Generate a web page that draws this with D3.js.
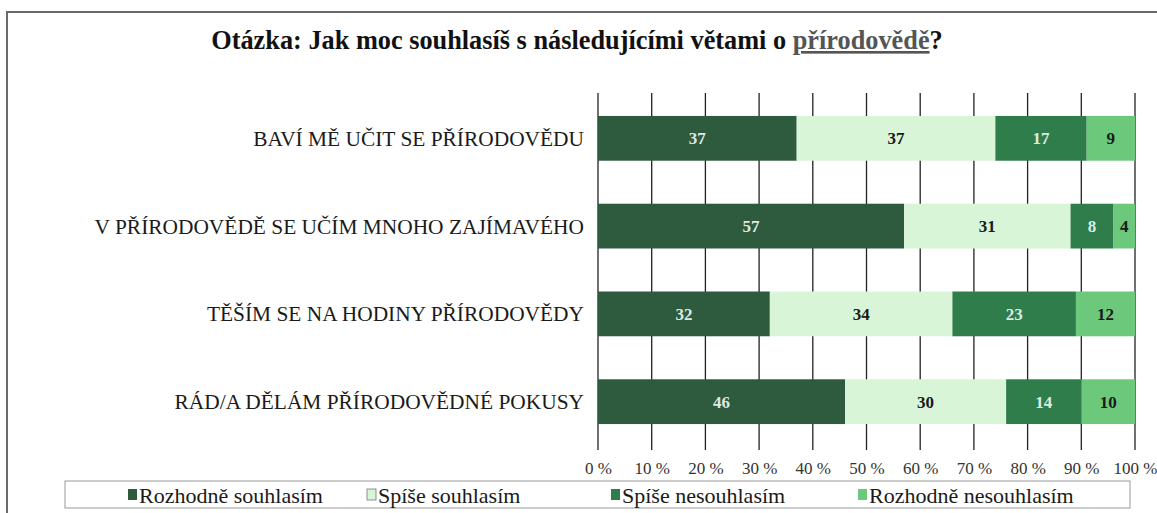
<!DOCTYPE html>
<html>
<head>
<meta charset="utf-8">
<script src="https://cdn.jsdelivr.net/npm/d3@7"></script>
<style>
  body { margin: 0; background: #fff; }
  svg { font-family: "Liberation Serif", "DejaVu Serif", serif; }
</style>
</head>
<body>
<script>
(function(){

    // Data
    var categories = [
        "BAVÍ MĚ UČIT SE PŘÍRODOVĚDU",
        "V PŘÍRODOVĚDĚ SE UČÍM MNOHO ZAJÍMAVÉHO",
        "TĚŠÍM SE NA HODINY PŘÍRODOVĚDY",
        "RÁD/A DĚLÁM PŘÍRODOVĚDNÉ POKUSY"
    ];
    var seriesNames = ["Rozhodně souhlasím", "Spíše souhlasím", "Spíše nesouhlasím", "Rozhodně nesouhlasím"];
    var rozhodneSouhlasim = [37, 57, 32, 46];
    var spiseSouhlasim = [37, 31, 34, 30];
    var spiseNesouhlasim = [17, 8, 23, 14];
    var rozhodneNesouhlasim = [9, 4, 12, 10];
    var tickValues = [0, 10, 20, 30, 40, 50, 60, 70, 80, 90, 100];

    var colors = ["#2e5a3e", "#d9f5d8", "#2f7d4a", "#6cc87b"];
    var labelColors = ["#dfe9e1", "#1a1a1a", "#dcebe0", "#1a1a1a"];

    window.onload = draw;

    function draw(){
        var width = 1157, height = 513;

        var svg = d3.select("body").append("svg")
            .attr("width", width)
            .attr("height", height);

        // outer frame
        svg.append("rect")
            .attr("x", 7).attr("y", 12)
            .attr("width", 1170).attr("height", 520)
            .attr("fill", "none")
            .attr("stroke", "#6a6a6a")
            .attr("stroke-width", 2);

        // title
        var title = svg.append("text")
            .attr("x", 577).attr("y", 49)
            .attr("text-anchor", "middle")
            .style("font-size", "26.3px")
            .style("font-weight", "bold")
            .attr("fill", "#111");
        title.append("tspan").text("Otázka: Jak moc souhlasíš s následujícími větami o ");
        title.append("tspan").text("přírodovědě")
            .attr("fill", "#555")
            .style("text-decoration", "underline");
        title.append("tspan").text("?");

        // 3rd row sums to 101, so the scale is clamped at 100 %
        var x = d3.scaleLinear().domain([0, 100]).range([598, 1135]).clamp(true);
        var y = d3.scaleBand().domain(categories).range([94, 446]).paddingInner(0.49).paddingOuter(0.25);

        // grid lines
        svg.append("g")
            .selectAll("line")
            .data(tickValues)
            .enter()
            .append("line")
            .attr("x1", function(d){ return x(d); })
            .attr("x2", function(d){ return x(d); })
            .attr("y1", 93)
            .attr("y2", 450)
            .attr("stroke", "#222")
            .attr("stroke-width", 1.3);

        // x axis labels
        var xAxis = d3.axisBottom(x)
            .tickValues(tickValues)
            .tickSize(0)
            .tickFormat(function(d){ return d + " %"; });

        var gx = svg.append("g")
            .attr("transform", "translate(0,459)")
            .call(xAxis);
        gx.select(".domain").remove();
        gx.selectAll("text")
            .style("font-family", "'Liberation Serif', serif")
            .style("font-size", "17px")
            .attr("fill", "#333");

        // stacks
        var rows = categories.map(function(c, i){
            return {
                cat: c,
                values: [rozhodneSouhlasim[i], spiseSouhlasim[i], spiseNesouhlasim[i], rozhodneNesouhlasim[i]]
            };
        });
        var keys = [0, 1, 2, 3];
        var stack = d3.stack()
            .keys(keys)
            .value(function(d, k){ return d.values[k]; });
        var series = stack(rows);

        var layers = svg.selectAll(".layer")
            .data(series)
            .enter()
            .append("g")
            .attr("class", "layer")
            .attr("fill", function(d, i){ return colors[i]; });

        layers.selectAll("rect")
            .data(function(d){ return d; })
            .enter()
            .append("rect")
            .attr("x", function(d){ return x(d[0]); })
            .attr("y", function(d){ return y(d.data.cat); })
            .attr("width", function(d){ return x(d[1]) - x(d[0]); })
            .attr("height", y.bandwidth());

        layers.each(function(s, i){
            d3.select(this).selectAll("text")
                .data(s)
                .enter()
                .append("text")
                .attr("x", function(d){ return (x(d[0]) + x(d[1])) / 2; })
                .attr("y", function(d){ return y(d.data.cat) + y.bandwidth() / 2; })
                .attr("dy", "0.35em")
                .attr("text-anchor", "middle")
                .attr("fill", labelColors[i])
                .style("font-size", "17px")
                .style("font-weight", "bold")
                .text(function(d){ return d[1] - d[0]; });
        });

        // category labels
        svg.append("g")
            .selectAll("text")
            .data(categories)
            .enter()
            .append("text")
            .attr("x", 584)
            .attr("y", function(d){ return y(d) + y.bandwidth() / 2; })
            .attr("dy", "0.35em")
            .attr("text-anchor", "end")
            .attr("fill", "#1a1a1a")
            .style("font-size", "21.4px")
            .text(function(d){ return d; });

        // legend
        svg.append("rect")
            .attr("x", 65).attr("y", 481)
            .attr("width", 1065).attr("height", 27)
            .attr("fill", "#fff")
            .attr("stroke", "#999")
            .attr("stroke-width", 1);

        var legendX = [128, 367, 611, 858];
        var legend = svg.selectAll(".legendItem")
            .data(seriesNames)
            .enter()
            .append("g")
            .attr("class", "legendItem")
            .attr("transform", function(d, i){ return "translate(" + legendX[i] + ",495)"; });

        legend.append("rect")
            .attr("x", 0).attr("y", -6)
            .attr("width", 9).attr("height", 11)
            .attr("fill", function(d, i){ return colors[i]; })
            .attr("stroke", function(d, i){ return i === 1 ? "#777" : "none"; })
            .attr("stroke-width", 0.8);

        legend.append("text")
            .attr("x", 11)
            .attr("y", 0)
            .attr("dy", "0.35em")
            .attr("fill", "#1a1a1a")
            .style("font-size", "22px")
            .text(function(d){ return d; });
    }

})();
</script>
</body>
</html>
